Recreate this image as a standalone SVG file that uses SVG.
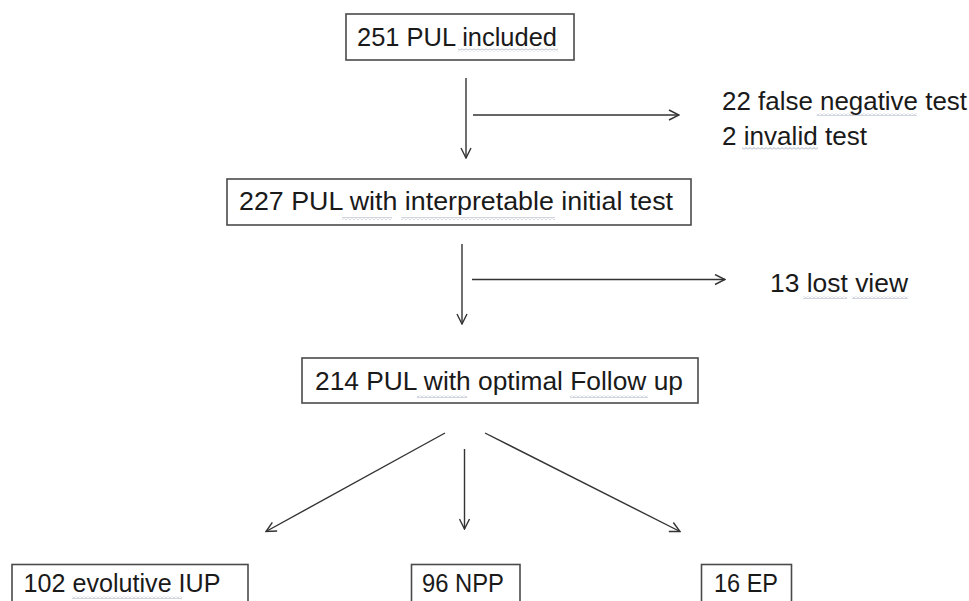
<svg xmlns="http://www.w3.org/2000/svg" width="969" height="601" viewBox="0 0 969 601">
<style>
.box{fill:#fff;stroke:#4a4a4a;stroke-width:1.6}
.t{font-family:"Liberation Sans",Arial,sans-serif;font-size:25px;fill:#1a1a1a}
.c{fill:none;stroke:#333;stroke-width:1.4}
.sq{fill:url(#sq)}
</style>
<defs>
<marker id="ah" viewBox="0 0 12 12" refX="11" refY="6" markerWidth="12" markerHeight="12" markerUnits="userSpaceOnUse" orient="auto">
<path d="M1,1 L11,6 L1,11" fill="none" stroke="#333" stroke-width="1.4"/>
</marker>
<pattern id="sq" width="4" height="3" patternUnits="userSpaceOnUse">
<path d="M0,2.5 L2,0.5 L4,2.5" fill="none" stroke="#9aa3b8" stroke-width="0.9"/>
</pattern>
</defs>
<rect width="969" height="601" fill="#fff"/>
<g id="connectors">
<line class="c" x1="466" y1="78" x2="466" y2="158" marker-end="url(#ah)"/>
<line class="c" x1="473" y1="115" x2="679" y2="115" marker-end="url(#ah)"/>
<line class="c" x1="462" y1="244" x2="462" y2="324" marker-end="url(#ah)"/>
<line class="c" x1="472" y1="279.5" x2="725" y2="279.5" marker-end="url(#ah)"/>
<line class="c" x1="445" y1="433" x2="266" y2="531.5" marker-end="url(#ah)"/>
<line class="c" x1="464.5" y1="449" x2="464.5" y2="529" marker-end="url(#ah)"/>
<line class="c" x1="485" y1="433" x2="680" y2="531.5" marker-end="url(#ah)"/>
</g>
<g id="n1">
<rect class="box" x="346" y="14" width="228" height="46"/>
<text class="t" x="357" y="45.5" textLength="200" lengthAdjust="spacingAndGlyphs">251 PUL included</text>
<rect class="sq" x="458" y="48.5" width="100" height="3"/>
</g>
<g id="excl1">
<text class="t" x="722" y="110" textLength="245" lengthAdjust="spacingAndGlyphs">22 false negative test</text>
<rect class="sq" x="817" y="113" width="100" height="3"/>
<text class="t" x="722" y="145" textLength="145" lengthAdjust="spacingAndGlyphs">2 invalid test</text>
<rect class="sq" x="742" y="147" width="76" height="3"/>
</g>
<g id="n2">
<rect class="box" x="227" y="179" width="464" height="46"/>
<text class="t" x="239" y="210" textLength="434" lengthAdjust="spacingAndGlyphs">227 PUL with interpretable initial test</text>
<rect class="sq" x="342" y="217" width="50" height="3"/>
<rect class="sq" x="401" y="217" width="154" height="3"/>
</g>
<g id="excl2">
<text class="t" x="770" y="292" textLength="138" lengthAdjust="spacingAndGlyphs">13 lost view</text>
<rect class="sq" x="803" y="296" width="44" height="3"/>
<rect class="sq" x="852" y="296" width="56" height="3"/>
</g>
<g id="n3">
<rect class="box" x="302" y="358" width="396" height="45"/>
<text class="t" x="315" y="390" textLength="368" lengthAdjust="spacingAndGlyphs">214 PUL with optimal Follow up</text>
<rect class="sq" x="417" y="395" width="50" height="3"/>
<rect class="sq" x="570" y="395" width="78" height="3"/>
</g>
<g id="n4">
<rect class="box" x="12" y="564.5" width="236" height="46"/>
<text class="t" x="23.5" y="591.5" textLength="197" lengthAdjust="spacingAndGlyphs">102 evolutive IUP</text>
<rect class="sq" x="72" y="596" width="110" height="3"/>
</g>
<g id="n5">
<rect class="box" x="411.5" y="564.5" width="108.5" height="46"/>
<text class="t" x="422" y="591.5" textLength="82" lengthAdjust="spacingAndGlyphs">96 NPP</text>
</g>
<g id="n6">
<rect class="box" x="701.5" y="564.5" width="90" height="46"/>
<text class="t" x="714" y="591.5" textLength="64" lengthAdjust="spacingAndGlyphs">16 EP</text>
</g>
</svg>
